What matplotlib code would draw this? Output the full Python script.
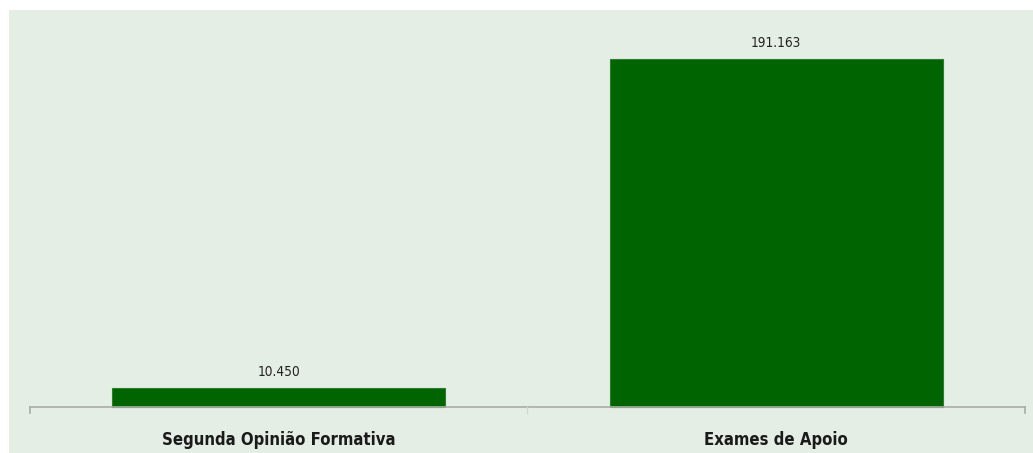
import matplotlib.pyplot as plt

# dados dos serviços
categorias = ['Segunda Opinião Formativa', 'Exames de Apoio']
valores = [10450, 191163]
rotulos = ['10.450', '191.163']

fundo = '#e5eee5'
verde = '#006400'

plt.rcParams['font.family'] = ['DejaVu Sans']

fig = plt.figure(figsize=(10.33, 4.53), dpi=100)
ax = fig.add_axes([9 / 1033, 0, 1 - 9 / 1033, 443 / 453])
ax.set_facecolor(fundo)

x = list(range(len(categorias)))
ax.bar(x, valores, width=0.67, color=verde, edgecolor='#2e7d2e', linewidth=0.8, zorder=2)

# eixo horizontal com marcas nas divisões das categorias
ax.plot([-0.5, 1.5], [0, 0], color='#a8aca8', linewidth=1.2, zorder=3)
for xt in [-0.5, 1.5]:
    ax.plot([xt, xt], [0, -3300], color='#a8aca8', linewidth=1.2, zorder=3)
ax.plot([0.5, 0.5], [0, -3300], color='#d0d6d0', linewidth=1.0, zorder=3)

for xi, v, r in zip(x, valores, rotulos):
    ax.text(xi, v + 9000, r, ha='center', va='center', fontsize=9.8,
            fontstretch='condensed', color='#222222')

for xi, c in zip(x, categorias):
    ax.text(xi, -18300, c, ha='center', va='center', fontsize=12,
            fontweight='bold', fontstretch='condensed', color='#1a1a1a')

ax.set_xlim(-0.5422, 1.5161)
ax.set_ylim(-25270, 218086)
for s in ax.spines.values():
    s.set_visible(False)
ax.set_xticks([])
ax.set_yticks([])

fig.savefig('out.png', dpi=100)
